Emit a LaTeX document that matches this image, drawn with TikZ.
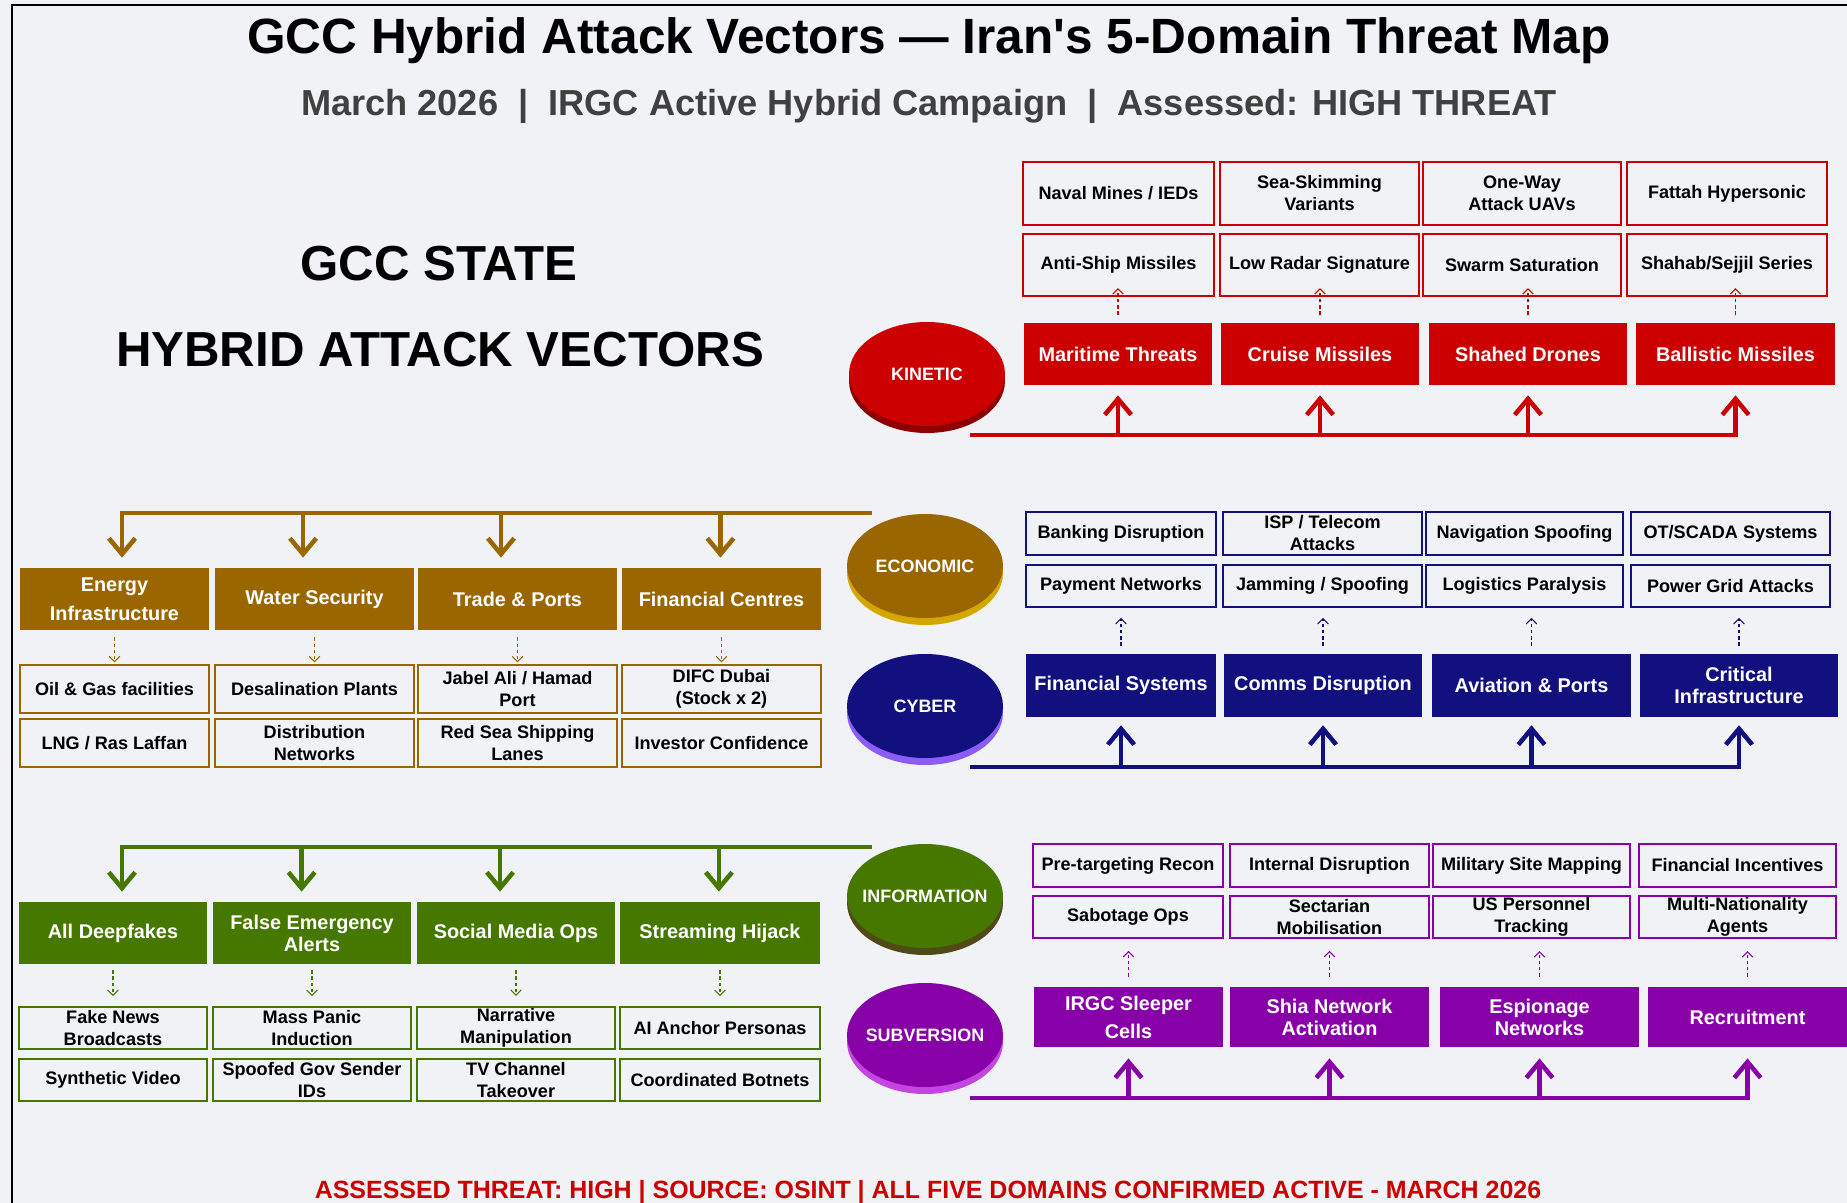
\documentclass[tikz,border=0pt]{standalone}
\usepackage{fontspec}
\setmainfont{Liberation Sans}
\usetikzlibrary{arrows.meta,shapes.geometric}

\definecolor{pagebg}{HTML}{F0F2F5}
\definecolor{subgray}{HTML}{404040}
\definecolor{kinred}{HTML}{CC0000}
\definecolor{kinshade}{HTML}{8E0000}
\definecolor{ecogold}{HTML}{996600}
\definecolor{ecoshade}{HTML}{D4A600}
\definecolor{cybnavy}{HTML}{12107F}
\definecolor{cybshade}{HTML}{8B5CF6}
\definecolor{infgreen}{HTML}{467800}
\definecolor{infshade}{HTML}{504A18}
\definecolor{subpurple}{HTML}{8800A8}
\definecolor{subshade}{HTML}{C445E0}

\begin{document}
\begin{tikzpicture}[x=0.02cm,y=-0.02cm,
    mainbox/.style={fill=#1,text=white,align=center,inner sep=1pt,
        minimum height=1.24cm,font=\bfseries\fontsize{11.3}{12.5}\selectfont},
    subbox/.style={draw=#1,line width=1.1pt,align=center,inner sep=1pt,
        font=\bfseries\fontsize{10.3}{12.5}\selectfont},
    domcirc/.style={ellipse,fill=#1,text=white,inner sep=0pt,
        minimum width=3.12cm,minimum height=2.08cm,
        font=\bfseries\fontsize{10.2}{12}\selectfont},
    domrim/.style={ellipse,fill=#1,inner sep=0pt,
        minimum width=3.12cm,minimum height=2.08cm},
    busline/.style={draw=#1,line width=2.6pt,
        -{Straight Barb[length=9pt,width=15pt]}},
    feedarrow/.style={draw=#1,line width=0.6pt,dash pattern=on 2pt off 1.5pt,
        -{Straight Barb[length=3pt,width=6pt]}}
]

% Background and frame
\fill[pagebg] (0,0) rectangle (1847,1203);
\useasboundingbox (0,0) rectangle (1847,1203);
\draw[line width=1.2pt] (12,1203) -- (12,5) -- (1847,5);

% Titles
\node (title) at (929,41)
    {\fontsize{28.2}{30}\selectfont\bfseries GCC Hybrid Attack Vectors — Iran\textquotesingle s 5-Domain Threat Map};
\node[text=subgray] (subtitle) at (929,106)
    {\fontsize{20.6}{24}\selectfont\bfseries March 2026\ \ |\ \ IRGC Active Hybrid Campaign\ \ |\ \ Assessed: HIGH THREAT};
\node (gccstate) at (439,264) {\fontsize{28}{30}\selectfont\bfseries GCC STATE};
\node (hybrid) at (440,350) {\fontsize{28}{30}\selectfont\bfseries HYBRID ATTACK VECTORS};

% Kinetic
\foreach \n/\xa/\xb/\sa/\sb/\txt/\ta/\tb in {
    1/1024/1212/1023/1214/{Maritime Threats}/{Naval Mines / IEDs}/{Anti-Ship Missiles},
    2/1221/1419/1220/1419/{Cruise Missiles}/{Sea-Skimming\\Variants}/{Low Radar Signature},
    3/1429/1627/1423/1621/{Shahed Drones}/{One-Way\\Attack UAVs}/{Swarm Saturation},
    4/1636/1835/1627/1827/{Ballistic Missiles}/{Fattah Hypersonic}/{Shahab/Sejjil Series}}{
    \node[mainbox=kinred,minimum width={(\xb-\xa)*0.02cm}] (kin\n) at ({(\xa+\xb)/2},354) {\txt};
    \node[subbox=kinred,minimum width={(\sb-\sa)*0.02cm},minimum height=1.26cm]
        (kinA\n) at ({(\sa+\sb)/2},193.5) {\ta};
    \node[subbox=kinred,minimum width={(\sb-\sa)*0.02cm},minimum height=1.24cm]
        (kinB\n) at ({(\sa+\sb)/2},265) {\tb};
    \draw[feedarrow=kinred] ([yshift=4.5pt]kin\n.north) -- ([yshift=5pt]kin\n.north |- kinB\n.south);
}
\coordinate (kinbus) at (970,435);
\draw[busline=kinred] (kinbus) -| ([yshift=-5.7pt]kin4.south);
\foreach \n in {1,2,3}
    \draw[busline=kinred] (kin\n.south |- kinbus) -- ([yshift=-5.7pt]kin\n.south);

% Cyber
\foreach \n/\xa/\xb/\sa/\sb/\txt/\ta/\tb in {
    1/1026/1216/1026/1216/{Financial Systems}/{Banking Disruption}/{Payment Networks},
    2/1224/1422/1223/1422/{Comms Disruption}/{ISP / Telecom\\Attacks}/{Jamming / Spoofing},
    3/1432/1631/1426/1623/{Aviation \& Ports}/{Navigation Spoofing}/{Logistics Paralysis},
    4/1640/1838/1631/1830/{Critical\\Infrastructure}/{OT/SCADA Systems}/{Power Grid Attacks}}{
    \node[mainbox=cybnavy,minimum width={(\xb-\xa)*0.02cm},minimum height=1.26cm]
        (cyb\n) at ({(\xa+\xb)/2},685.5) {\txt};
    \node[subbox=cybnavy,minimum width={(\sb-\sa)*0.02cm},minimum height=0.86cm]
        (cybA\n) at ({(\sa+\sb)/2},533.5) {\ta};
    \node[subbox=cybnavy,minimum width={(\sb-\sa)*0.02cm},minimum height=0.84cm]
        (cybB\n) at ({(\sa+\sb)/2},586) {\tb};
    \draw[feedarrow=cybnavy] ([yshift=4.5pt]cyb\n.north) -- ([yshift=-5.7pt]cyb\n.north |- cybB\n.south);
}
\coordinate (cybbus) at (970,767);
\draw[busline=cybnavy] (cybbus) -| ([yshift=-4.5pt]cyb4.south);
\foreach \n in {1,2,3}
    \draw[busline=cybnavy] (cyb\n.south |- cybbus) -- ([yshift=-4.5pt]cyb\n.south);

% Subversion
\foreach \n/\xa/\xb/\sa/\sb/\txt/\ta/\tb in {
    1/1034/1223/1033/1223/{IRGC Sleeper\\[3.5pt]Cells}/{Pre-targeting Recon}/{Sabotage Ops},
    2/1230/1429/1230/1429/{Shia Network\\Activation}/{Internal Disruption}/{Sectarian\\Mobilisation},
    3/1440/1639/1433/1630/{Espionage\\Networks}/{Military Site Mapping}/{US Personnel\\Tracking},
    4/1648/1847/1639/1836/{Recruitment}/{Financial Incentives}/{Multi-Nationality\\Agents}}{
    \node[mainbox=subpurple,minimum width={(\xb-\xa)*0.02cm},minimum height=1.2cm]
        (sub\n) at ({(\xa+\xb)/2},1017) {\txt};
    \node[subbox=subpurple,minimum width={(\sb-\sa)*0.02cm},minimum height=0.86cm]
        (subA\n) at ({(\sa+\sb)/2},865.5) {\ta};
    \node[subbox=subpurple,minimum width={(\sb-\sa)*0.02cm},minimum height=0.84cm]
        (subB\n) at ({(\sa+\sb)/2},917) {\tb};
    \draw[feedarrow=subpurple] ([yshift=5.7pt]sub\n.north) -- ([yshift=-6.8pt]sub\n.north |- subB\n.south);
}
\coordinate (subbus) at (970,1098);
\draw[busline=subpurple] (subbus) -| ([yshift=-6.3pt]sub4.south);
\foreach \n in {1,2,3}
    \draw[busline=subpurple] (sub\n.south |- subbus) -- ([yshift=-6.3pt]sub\n.south);

% Economic
\foreach \n/\xa/\xb/\txt/\ta/\tb in {
    1/20/209/{Energy\\[3.8pt]Infrastructure}/{Oil \& Gas facilities}/{LNG / Ras Laffan},
    2/215/414/{Water Security}/{Desalination Plants}/{Distribution\\Networks},
    3/418/617/{Trade \& Ports}/{Jabel Ali / Hamad\\Port}/{Red Sea Shipping\\Lanes},
    4/622/821/{Financial Centres}/{DIFC Dubai\\(Stock x 2)}/{Investor Confidence}}{
    \node[mainbox=ecogold,minimum width={(\xb-\xa)*0.02cm}] (eco\n) at ({(\xa+\xb)/2},599) {\txt};
    \node[subbox=ecogold,minimum width={(\xb-\xa)*0.02cm},minimum height=0.96cm]
        (ecoA\n) at ({(\xa+\xb)/2},689) {\ta};
    \node[subbox=ecogold,minimum width={(\xb-\xa)*0.02cm},minimum height=0.96cm]
        (ecoB\n) at ({(\xa+\xb)/2},743) {\tb};
    \draw[feedarrow=ecogold] ([yshift=-4pt]eco\n.south) -- ([yshift=1pt]eco\n.south |- ecoA\n.north);
}
\coordinate (ecobus) at (872,513);
\draw[busline=ecogold] (ecobus) -| ([xshift=4.3pt,yshift=5.7pt]eco1.north);
\foreach \n/\dx in {2/-6.5pt,3/-9.4pt,4/-0.6pt}
    \draw[busline=ecogold] ([xshift=\dx]eco\n.north |- ecobus) -- ([xshift=\dx,yshift=5.7pt]eco\n.north);

% Information
\foreach \n/\xa/\xb/\txt/\ta/\tb in {
    1/19/207/{All Deepfakes}/{Fake News\\Broadcasts}/{Synthetic Video},
    2/213/411/{False Emergency\\Alerts}/{Mass Panic\\Induction}/{Spoofed Gov Sender\\IDs},
    3/417/615/{Social Media Ops}/{Narrative\\Manipulation}/{TV Channel\\Takeover},
    4/620/820/{Streaming Hijack}/{AI Anchor Personas}/{Coordinated Botnets}}{
    \node[mainbox=infgreen,minimum width={(\xb-\xa)*0.02cm}] (inf\n) at ({(\xa+\xb)/2},933) {\txt};
    \node[subbox=infgreen,minimum width={(\xb-\xa)*0.02cm},minimum height=0.84cm]
        (infA\n) at ({(\xa+\xb)/2},1028) {\ta};
    \node[subbox=infgreen,minimum width={(\xb-\xa)*0.02cm},minimum height=0.84cm]
        (infB\n) at ({(\xa+\xb)/2},1080) {\tb};
    \draw[feedarrow=infgreen] ([yshift=-3.4pt]inf\n.south) -- ([yshift=5.7pt]inf\n.south |- infA\n.north);
}
\coordinate (infbus) at (872,847);
\draw[busline=infgreen] (infbus) -| ([xshift=5.1pt,yshift=5.7pt]inf1.north);
\foreach \n/\dx in {2/-5.9pt,3/-9.1pt,4/-0.6pt}
    \draw[busline=infgreen] ([xshift=\dx]inf\n.north |- infbus) -- ([xshift=\dx,yshift=5.7pt]inf\n.north);

% Domain discs
\node[domrim=kinshade] (kinrim) at (927,381) {};
\node[domcirc=kinred] (kinetic) at (927,374) {\makebox[0pt]{KINETIC}};
\node[domrim=ecoshade] (ecorim) at (925,573) {};
\node[domcirc=ecogold] (economic) at (925,566) {\makebox[0pt]{ECONOMIC}};
\node[domrim=cybshade] (cybrim) at (925,713) {};
\node[domcirc=cybnavy] (cyber) at (925,706) {\makebox[0pt]{CYBER}};
\node[domrim=infshade] (infrim) at (925,903) {};
\node[domcirc=infgreen] (information) at (925,896) {\makebox[0pt]{INFORMATION}};
\node[domrim=subshade] (subrim) at (925,1042) {};
\node[domcirc=subpurple] (subversion) at (925,1035) {\makebox[0pt]{SUBVERSION}};

% Footer
\node[anchor=base,text=kinred] (footer) at (928,1198)
    {\fontsize{14.2}{16}\selectfont\bfseries ASSESSED THREAT: HIGH | SOURCE: OSINT | ALL FIVE DOMAINS CONFIRMED ACTIVE - MARCH 2026};

\end{tikzpicture}
\end{document}
